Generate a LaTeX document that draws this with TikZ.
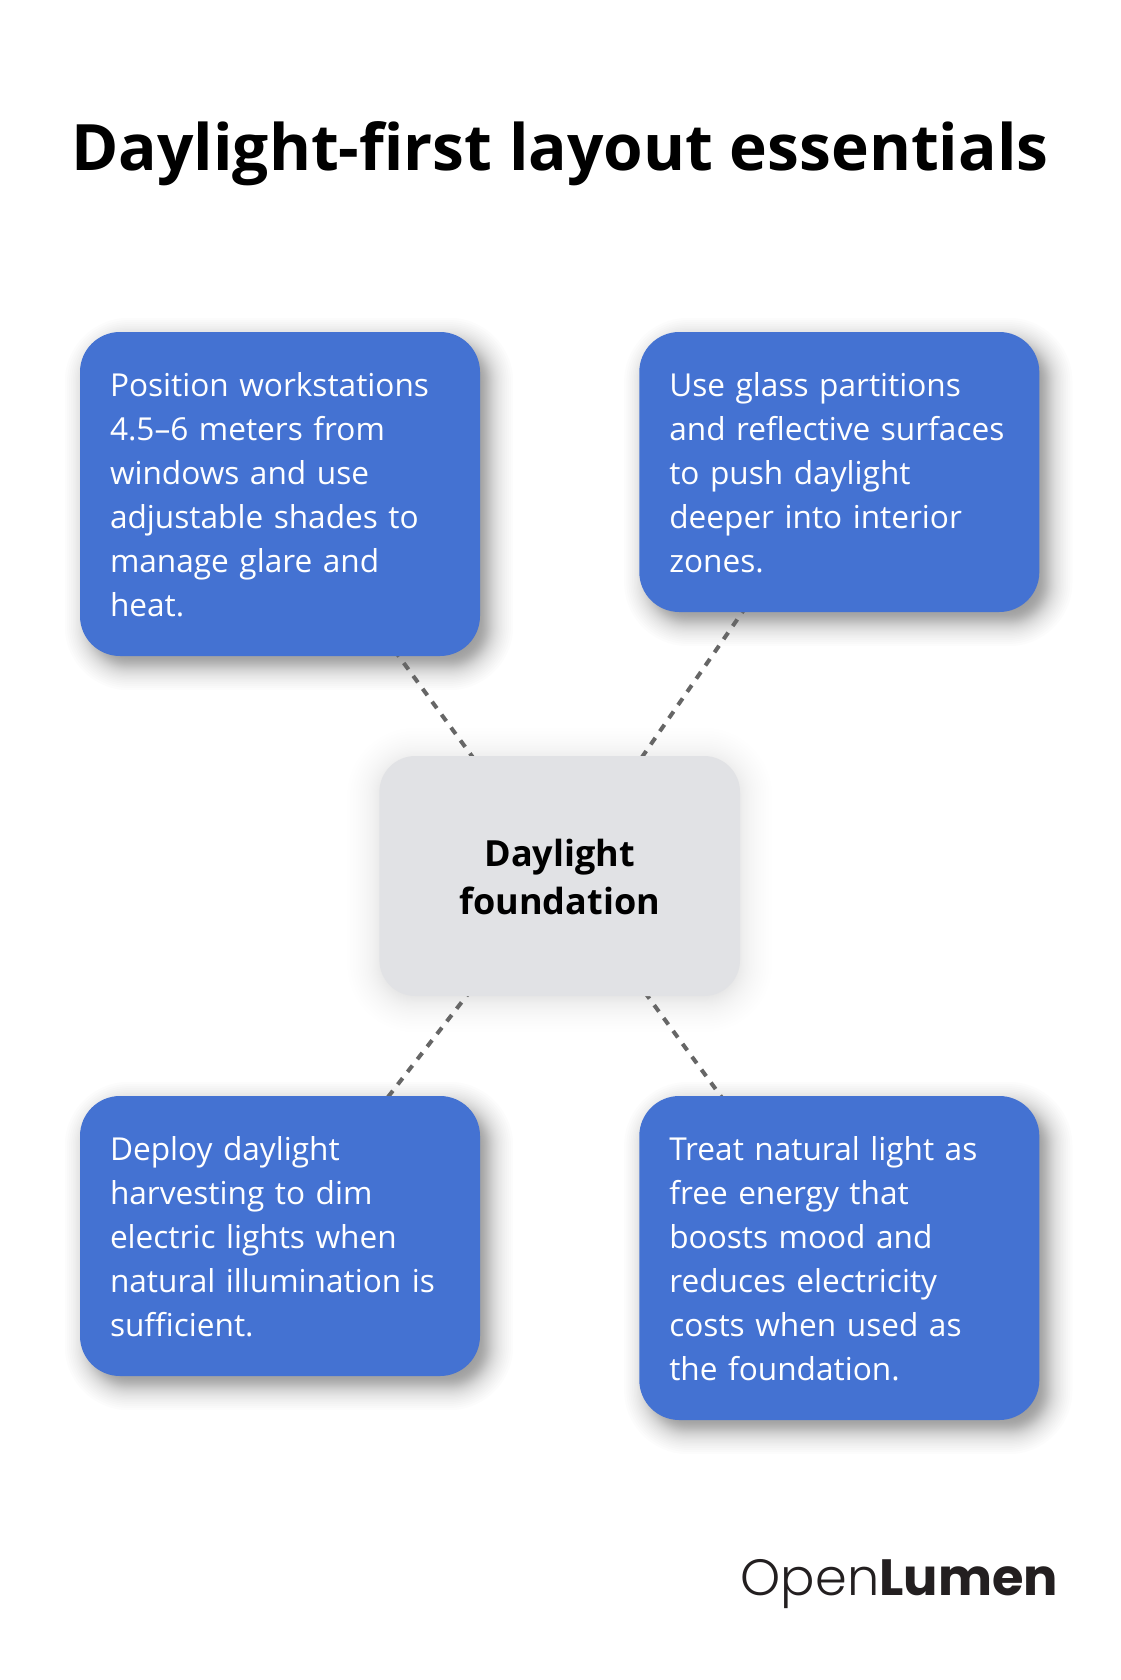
\documentclass[tikz,border=0pt]{standalone}
\usepackage{fontspec}
\setmainfont{Open Sans}
\newfontfamily\logolight{Poppins Light}
\newfontfamily\logobold{Poppins Bold}
\usetikzlibrary{backgrounds}
\definecolor{boxblue}{HTML}{4472D2}
\definecolor{boxgrey}{HTML}{E1E2E5}
\definecolor{linkgrey}{HTML}{666666}
\definecolor{logoink}{HTML}{231F20}
\newcommand{\softshadow}[6]{% node, dx, dy, blur, radius, opacity
  \foreach \k in {0,1,...,39}{
    \pgfmathsetmacro{\u}{1-\k/19.5}
    \pgfmathsetmacro{\grow}{#4*(0.55*\u+0.45*\u*\u*\u)}
    \pgfmathsetmacro{\rad}{max(#5+\grow,2)}
    \fill[black,opacity=#6,rounded corners=\rad pt]
      ([shift={(#2-\grow,#3+\grow)}]#1.south west) rectangle ([shift={(#2+\grow,#3-\grow)}]#1.north east);
  }
}
\tikzset{
  x=1pt,y=-1pt,
  bluebox/.style={rectangle,fill=boxblue,rounded corners=40pt,minimum width=400pt,inner sep=0pt,
    text=white,text width=340pt,align=left,font=\fontsize{31.6}{44}\selectfont,
    execute at begin node=\rule{0pt}{34pt},execute at end node=\rule[-10pt]{0pt}{10pt}},
  greybox/.style={rectangle,fill=boxgrey,rounded corners=36pt,minimum width=360pt,minimum height=240pt,inner sep=0pt,
    text=black,align=center,font=\fontsize{36}{47.5}\selectfont\bfseries},
  link/.style={draw=linkgrey,line width=4pt,dash pattern=on 8pt off 8pt},
  titletext/.style={font=\fontsize{64}{80}\selectfont\bfseries,text=black,inner sep=0pt,anchor=base},
}
\begin{document}
\begin{tikzpicture}
\useasboundingbox (0,0) rectangle (1120,1680);
\node[titletext] (title) at (560,171) {Daylight-first layout essentials};
\node[bluebox,minimum height=324pt] (a) at (280,494) {Position workstations\\4.5–6 meters from\\windows and use\\adjustable shades to\\manage glare and\\heat.};
\node[bluebox,minimum height=280pt] (b) at (839.3,472) {Use glass partitions\\and reflective surfaces\\to push daylight\\deeper into interior\\zones.};
\node[bluebox,minimum height=280pt] (d) at (280,1236) {Deploy daylight\\harvesting to dim\\electric lights when\\natural illumination is\\sufficient.};
\node[bluebox,minimum height=324pt] (e) at (839.3,1258) {Treat natural light as\\free energy that\\boosts mood and\\reduces electricity\\costs when used as\\the foundation.};
\node[greybox,minimum width=360.6pt] (c) at (559.7,876) {\rule{0pt}{39pt}Daylight\\foundation\rule[-10pt]{0pt}{10pt}};
\node[inner sep=0pt,anchor=base east,text=logoink,font=\fontsize{51}{51}\selectfont] (logo) at (1058,1595) {{\logolight Open}{\logobold Lumen}};
\begin{pgfonlayer}{background}
  \fill[white] (0,0) rectangle (1120,1680);
  \softshadow{a}{9}{10}{24}{40}{0.0105}
  \softshadow{b}{9}{10}{24}{40}{0.0105}
  \softshadow{d}{9}{10}{24}{40}{0.0105}
  \softshadow{e}{9}{10}{24}{40}{0.0105}
  \softshadow{c}{0}{4}{32}{36}{0.003}
  \draw[link] (c.center) -- (a.center);
  \draw[link] (c.center) -- (b.center);
  \draw[link] (c.center) -- (d.center);
  \draw[link] (c.center) -- (e.center);
\end{pgfonlayer}
\end{tikzpicture}
\end{document}
